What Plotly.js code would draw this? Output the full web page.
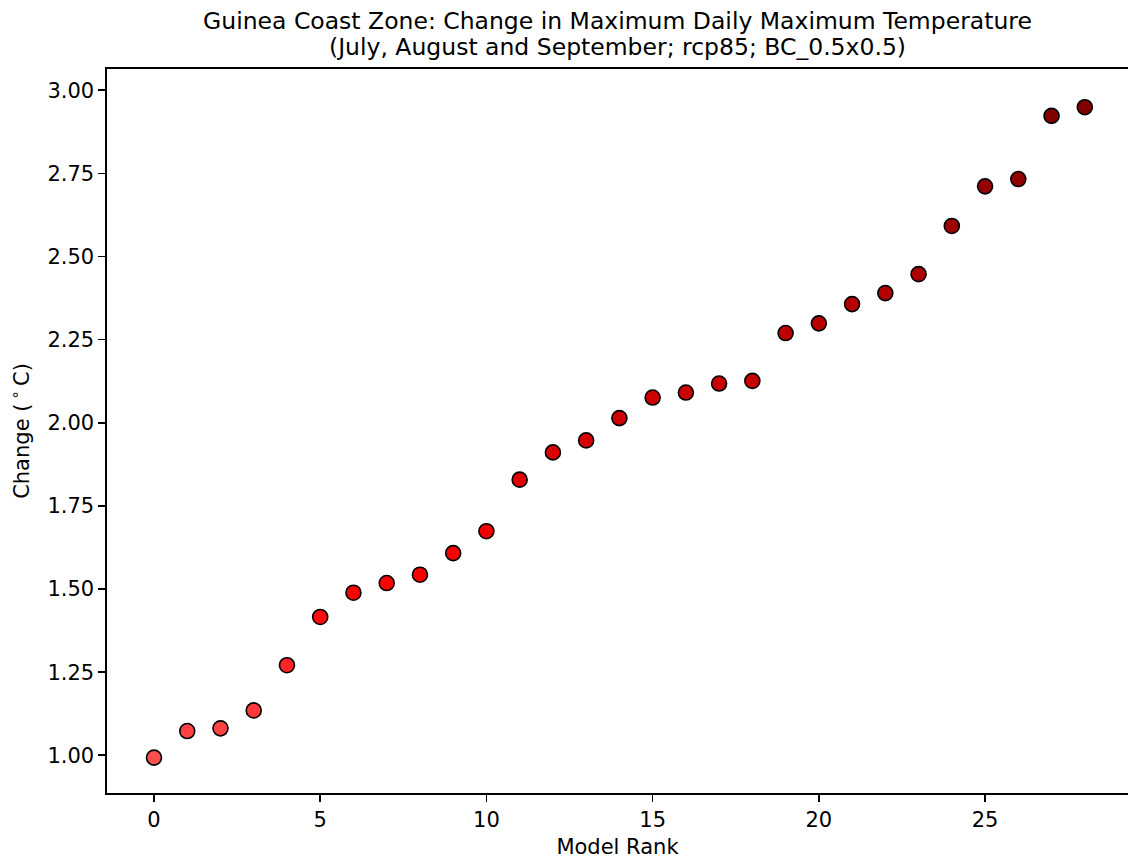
<!DOCTYPE html>
<html>
<head>
<meta charset="utf-8">
<script src="https://cdn.plot.ly/plotly-3.0.1.min.js"></script>
<style>
html,body{margin:0;padding:0;background:#fff;}
#chart{width:1128px;height:859px;}
</style>
</head>
<body>
<div id="chart"></div>
<script>
const modelRank = [0,1,2,3,4,5,6,7,8,9,10,11,12,13,14,15,16,17,18,19,20,21,22,23,24,25,26,27,28];
const changeValues = [0.993,1.073,1.081,1.135,1.271,1.416,1.489,1.518,1.543,1.608,1.674,1.829,1.911,1.947,2.014,2.076,2.091,2.118,2.126,2.270,2.299,2.357,2.390,2.447,2.592,2.711,2.733,2.923,2.949];
const xTickVals = [0,5,10,15,20,25];
const yTickVals = [1.00,1.25,1.50,1.75,2.00,2.25,2.50,2.75,3.00];
const yTickText = ['1.00','1.25','1.50','1.75','2.00','2.25','2.50','2.75','3.00'];
const titleLine1 = 'Guinea Coast Zone: Change in Maximum Daily Maximum Temperature';
const titleLine2 = '(July, August and September; rcp85; BC_0.5x0.5)';

const font = 'DejaVu Sans, sans-serif';
const vmin = Math.min(...changeValues), vmax = Math.max(...changeValues);

const trace = {
  x: modelRank,
  y: changeValues,
  type: 'scatter',
  mode: 'markers',
  marker: {
    size: 15,
    color: changeValues,
    cmin: vmin,
    cmax: vmax,
    colorscale: [[0,'#ff5050'],[0.254,'#ff0000'],[1,'#800000']],
    showscale: false,
    line: {color: '#000000', width: 1.6}
  },
  hoverinfo: 'x+y'
};

const layout = {
  width: 1128,
  height: 859,
  paper_bgcolor: '#ffffff',
  plot_bgcolor: '#ffffff',
  margin: {l: 107, r: 0, t: 69, b: 66, pad: 0},
  font: {family: font, size: 21, color: '#000000'},
  showlegend: false,
  title: {
    text: titleLine1,
    x: 0.5, xref: 'paper', xanchor: 'center',
    y: 1 - 21/859, yref: 'container', yanchor: 'middle',
    font: {family: font, size: 23.5, color: '#000000'}
  },
  annotations: [{
    text: titleLine2,
    x: 0.5, xref: 'paper', xanchor: 'center',
    y: (793 - 47)/724, yref: 'paper', yanchor: 'middle',
    showarrow: false,
    font: {family: font, size: 23.5, color: '#000000'}
  }],
  xaxis: {
    range: [-1.414, 29.30],
    tickmode: 'array',
    tickvals: xTickVals,
    ticks: 'outside', ticklen: 7, tickwidth: 1.6, tickcolor: '#000000',
    showline: true, linecolor: '#000000', linewidth: 1.6, mirror: true,
    showgrid: false, zeroline: false,
    tickfont: {family: font, size: 21},
    title: {text: 'Model Rank', font: {family: font, size: 21}, standoff: 11}
  },
  yaxis: {
    range: [0.8866, 3.064],
    tickmode: 'array',
    tickvals: yTickVals,
    ticktext: yTickText,
    ticks: 'outside', ticklen: 7, tickwidth: 1.6, tickcolor: '#000000',
    showline: true, linecolor: '#000000', linewidth: 1.6, mirror: false,
    showgrid: false, zeroline: false,
    tickfont: {family: font, size: 21},
    title: {text: 'Change (\u2009<sup>∘</sup>\u2009C)', font: {family: font, size: 21}, standoff: 12}
  }
};

Plotly.newPlot('chart', [trace], layout, {displayModeBar: false, staticPlot: true});
</script>
</body>
</html>
